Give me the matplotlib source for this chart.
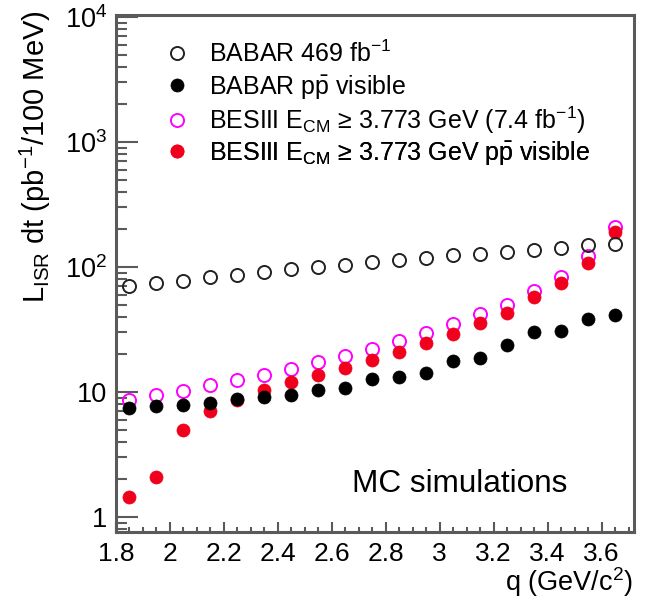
import matplotlib
matplotlib.use("Agg")
import matplotlib.pyplot as plt
from matplotlib.ticker import FixedLocator, FuncFormatter, NullFormatter

plt.rcParams["font.family"] = ["Liberation Sans", "DejaVu Sans"]
plt.rcParams["mathtext.fontset"] = "custom"
plt.rcParams["mathtext.rm"] = "Liberation Sans"
plt.rcParams["mathtext.it"] = "Liberation Sans:italic"
plt.rcParams["mathtext.bf"] = "Liberation Sans:bold"

# q bin centres (GeV/c^2)
q = [1.85, 1.95, 2.05, 2.15, 2.25, 2.35, 2.45, 2.55, 2.65, 2.75,
     2.85, 2.95, 3.05, 3.15, 3.25, 3.35, 3.45, 3.55, 3.65]

# Integrated ISR luminosity per 100 MeV (pb^-1)
babar_all = [70, 74.5, 78, 83, 87, 91, 96, 100, 104, 109,
             114, 119, 124, 128, 132, 138, 143, 149, 154]
babar_vis = [7.45, 7.7, 7.95, 8.2, 8.8, 9.1, 9.4, 10.4, 10.8, 12.7,
             13.1, 14.3, 17.7, 18.8, 23.6, 30.0, 30.9, 38.6, 41.6]
besiii_all = [8.7, 9.4, 10.3, 11.3, 12.6, 13.8, 15.4, 17.4, 19.6, 22.2,
              25.6, 29.6, 34.8, 41.8, 50, 65, 84, 122, 211]
besiii_vis = [1.45, 2.1, 5.0, 7.1, 8.7, 10.4, 12.0, 13.8, 15.7, 18.1,
              21.1, 24.8, 29.3, 35.9, 43, 58, 75, 108, 191]

labels = [
    r"BABAR 469 fb$^{-1}$",
    r"BABAR $\mathrm{p\bar{p}}$ visible",
    r"BESIII E$_{\mathrm{CM}}$ ≥ 3.773 GeV (7.4 fb$^{-1}$)",
    r"BESIII E$_{\mathrm{CM}}$ ≥ 3.773 GeV $\mathrm{p\bar{p}}$ visible",
]

W, H = 645, 601
fig = plt.figure(figsize=(W / 100, H / 100), dpi=100)
ax_bottom, ax_top = 532, 15
ax = fig.add_axes([116 / W, 1 - ax_bottom / H, (634 - 116) / W,
                   (ax_bottom - ax_top) / H])

ms = 9.4
h_mag, = ax.plot(q, besiii_all, ls="none", marker="o", ms=ms, mfc="none",
                 mec="#ff00ff", mew=1.4, zorder=3)
h_red, = ax.plot(q, besiii_vis, ls="none", marker="o", ms=ms, mfc="#f0001c",
                 mec="#f0001c", mew=0.5, zorder=4)
h_blk, = ax.plot(q, babar_vis, ls="none", marker="o", ms=ms, mfc="black",
                 mec="black", mew=0.5, zorder=5)
h_open, = ax.plot(q, babar_all, ls="none", marker="o", ms=ms, mfc="none",
                  mec="#222222", mew=1.4, zorder=6)

ax.set_yscale("log")
ax.set_xlim(1.8, 3.72)
ax.set_ylim(0.76, 1.04e4)

frame_col = "#5a5a5a"
for side in ax.spines.values():
    side.set_color(frame_col)
    side.set_linewidth(2.2)

# y axis ticks
ymajor = [1, 10, 100, 1000, 10000]
yminor = [0.8, 0.9] + [m * 10 ** e for e in range(0, 4) for m in range(2, 10)]
ylab = {1: "1", 10: "10", 100: r"$10^{2}$", 1000: r"$10^{3}$", 10000: r"$10^{4}$"}
ax.yaxis.set_major_locator(FixedLocator(ymajor))
ax.yaxis.set_minor_locator(FixedLocator(yminor))
ax.yaxis.set_major_formatter(FuncFormatter(lambda v, p: ylab.get(int(round(v)), "")))
ax.yaxis.set_minor_formatter(NullFormatter())

# x axis ticks
xmajor = [1.8, 2.0, 2.2, 2.4, 2.6, 2.8, 3.0, 3.2, 3.4, 3.6]
xminor = [1.8 + 0.05 * i for i in range(0, 39)]
ax.xaxis.set_major_locator(FixedLocator(xmajor))
ax.xaxis.set_minor_locator(FixedLocator(xminor))
ax.xaxis.set_major_formatter(FuncFormatter(lambda v, p: "%g" % round(v, 2)))

ax.tick_params(axis="both", which="both", direction="in", colors=frame_col,
               labelcolor="black", width=1.5, top=False, right=False)
ax.tick_params(axis="y", which="major", length=16, pad=6.5, labelsize=19.5)
ax.tick_params(axis="y", which="minor", length=8)
ax.tick_params(axis="x", which="major", length=7.5, pad=7, labelsize=19)
ax.tick_params(axis="x", which="minor", length=3.8)

# legend: one entry per row so the rows are evenly spaced
row_px = [54, 87, 120, 153]
for handle, text, ypx in zip([h_open, h_blk, h_mag, h_red], labels, row_px):
    yfrac = (ax_bottom - ypx) / (ax_bottom - ax_top)
    lg = ax.legend([handle], [text], loc="center left",
                   bbox_to_anchor=(0.093, yfrac), frameon=False, fontsize=18,
                   handlelength=1.0, handletextpad=0.8,
                   borderpad=0, borderaxespad=0, numpoints=1)
    ax.add_artist(lg)

fig.text(352 / W, 1 - 492 / H, "MC simulations", fontsize=22.7,
         ha="left", va="baseline")
fig.text(633 / W, 1 - 591 / H, r"q (GeV/c$^{2}$)", fontsize=19.5,
         ha="right", va="baseline")
fig.text(53 / W, 1 - 10 / H, r"L$_{\mathrm{ISR}}$ dt (pb$^{-1}$/100 MeV)",
         fontsize=21, rotation=90, ha="right", va="top")

fig.savefig("out.png", dpi=100)
